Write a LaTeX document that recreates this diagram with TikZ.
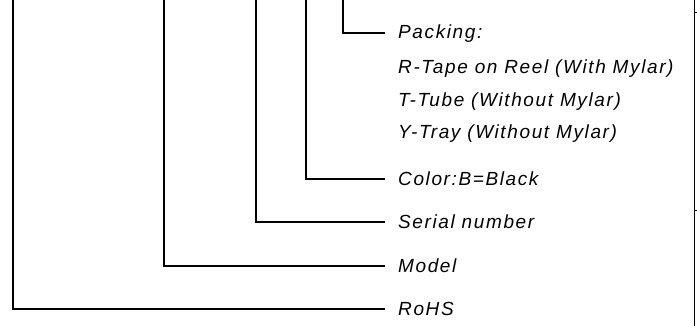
\documentclass[tikz,border=0pt]{standalone}
\usepackage{fontspec}
\setmainfont{Liberation Sans}
\newfontfamily\lblfont[LetterSpace=8.5]{Liberation Sans}
\begin{document}
\begin{tikzpicture}[x=1pt,y=-1pt,
  leader/.style={line width=1.1pt,black},
  lbl/.style={anchor=base west,inner sep=0pt,font=\lblfont\itshape\fontsize{19}{21}\selectfont}]
\useasboundingbox (0,0) rectangle (697,326);
% label nodes
\node[lbl] (pk) at (398,39) {Packing:};
\node[lbl] (r) at (398,74) {R-Tape on Reel (With Mylar)};
\node[lbl] (t) at (398,106.5) {T-Tube (Without Mylar)};
\node[lbl] (y) at (398,138.5) {Y-Tray (Without Mylar)};
\node[lbl] (col) at (398,185.5) {Color:B=Black};
\node[lbl] (ser) at (398,229) {Serial number};
\node[lbl] (mod) at (398,272.5) {Model};
\node[lbl] (rohs) at (398,315.5) {RoHS};
% end coordinates of leaders
\coordinate (epk) at (385,33);
\coordinate (ecol) at (385,179);
\coordinate (eser) at (385,222);
\coordinate (emod) at (385,266);
\coordinate (erohs) at (385,309);
\coordinate (tpk) at (343,0);
\coordinate (tcol) at (306,0);
\coordinate (tser) at (256,0);
\coordinate (tmod) at (164,0);
\coordinate (trohs) at (13,0);
\draw[leader] (tpk) |- (epk);
\draw[leader] (tcol) |- (ecol);
\draw[leader] (tser) |- (eser);
\draw[leader] (tmod) |- (emod);
\draw[leader] (trohs) |- (erohs);
% right border
\coordinate (bt) at (694.5,0);
\coordinate (bb) at (694.5,326);
\draw[line width=1.1pt] (bt) -- (bb);
\coordinate (k1) at (697,12);
\coordinate (k2) at (697,210);
\draw[line width=0.8pt] (694.5,12) -- (k1);
\draw[line width=0.8pt] (694.5,210) -- (k2);
\end{tikzpicture}
\end{document}
